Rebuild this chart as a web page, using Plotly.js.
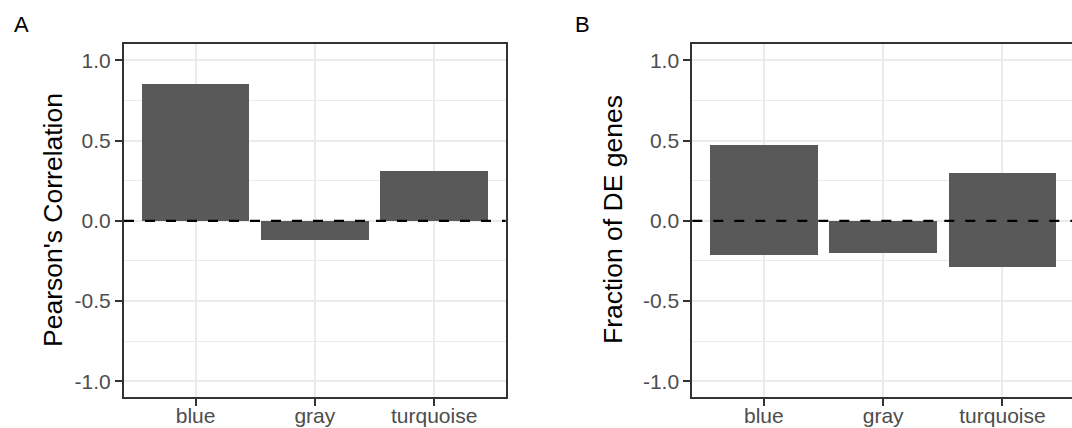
<!DOCTYPE html>
<html>
<head>
<meta charset="utf-8">
<script src="https://cdn.plot.ly/plotly-3.0.1.min.js"></script>
<style>
  html, body { margin: 0; padding: 0; overflow: hidden; background: #fff; }
  #chart { width: 1072px; height: 428px; }
</style>
</head>
<body>
<div id="chart"></div>
<script>
// ---- data ----
const categories = ['blue', 'gray', 'turquoise'];
const pearsonCorr = [0.854, -0.121, 0.309];      // panel A
const deFractionUp = [0.471, 0.0, 0.301];         // panel B, positive part
const deFractionDown = [-0.214, -0.200, -0.289];  // panel B, negative part
const yTickVals = [-1, -0.5, 0, 0.5, 1];
const yTickText = ['-1.0', '-0.5', '0.0', '0.5', '1.0'];
const yMinorVals = [-0.75, -0.25, 0.25, 0.75];
const panelTags = ['A', 'B'];
const yTitles = ["Pearson's Correlation", 'Fraction of DE genes'];

// ---- styling ----
const FONT = '"Liberation Sans", Arial, Helvetica, sans-serif';
const BAR = '#595959';
const GRID = '#EBEBEB';
const FRAME = '#333333';
const TICKFONT = {family: FONT, size: 21, color: '#4D4D4D'};

function barTrace(y, xa, ya) {
  return {
    type: 'bar', x: categories, y: y, xaxis: xa, yaxis: ya,
    width: 0.9, marker: {color: BAR, line: {width: 0}},
    hoverinfo: 'x+y', showlegend: false
  };
}

const data = [
  barTrace(pearsonCorr, 'x', 'y'),
  barTrace(deFractionUp, 'x2', 'y2'),
  barTrace(deFractionDown, 'x2', 'y2')
];

function xAxis(domain, range, anchor) {
  return {
    domain: domain, range: range, anchor: anchor, type: 'category',
    showgrid: true, gridcolor: GRID, gridwidth: 2,
    showline: true, linecolor: FRAME, linewidth: 2, mirror: true,
    ticks: 'outside', ticklen: 7, tickwidth: 2, tickcolor: FRAME,
    ticklabelstandoff: -9,
    tickfont: TICKFONT, zeroline: false, fixedrange: true
  };
}
function yAxis(domain, anchor, mirror) {
  return {
    domain: domain, range: [-1.1, 1.1], anchor: anchor,
    tickmode: 'array', tickvals: yTickVals, ticktext: yTickText,
    showgrid: true, gridcolor: GRID, gridwidth: 2,
    minor: {tickmode: 'array', tickvals: yMinorVals, showgrid: true,
            gridcolor: GRID, gridwidth: 1, ticks: ''},
    showline: true, linecolor: FRAME, linewidth: 2, mirror: mirror,
    ticks: 'outside', ticklen: 7, tickwidth: 2, tickcolor: FRAME,
    tickfont: TICKFONT, zeroline: false, fixedrange: true
  };
}

const W = 1072, H = 428;
const yDom = [30.7 / H, 383.7 / H];
const layout = {
  width: W, height: H,
  margin: {l: 0, r: 0, t: 0, b: 0},
  paper_bgcolor: '#ffffff', plot_bgcolor: '#ffffff',
  barmode: 'overlay', bargap: 0,
  font: {family: FONT},
  xaxis: xAxis([124 / W, 505.7 / W], [-0.6, 2.6], 'y'),
  yaxis: yAxis(yDom, 'x', true),
  xaxis2: xAxis([692.3 / W, 1], [-0.6, 2.583], 'y2'),
  yaxis2: yAxis(yDom, 'x2', false),
  shapes: [
    {type: 'line', xref: 'x domain', yref: 'y', x0: 0, x1: 1, y0: 0, y1: 0,
     line: {color: '#000000', width: 2.2, dash: '10px,11px'}, layer: 'above'},
    {type: 'line', xref: 'x2 domain', yref: 'y2', x0: 0, x1: 1, y0: 0, y1: 0,
     line: {color: '#000000', width: 2.2, dash: '10px,11px'}, layer: 'above'}
  ],
  annotations: [
    {text: panelTags[0], xref: 'paper', yref: 'paper', x: 12 / W, y: (H - 24.5) / H,
     xanchor: 'left', yanchor: 'middle', showarrow: false,
     font: {family: FONT, size: 22, color: '#000'}},
    {text: panelTags[1], xref: 'paper', yref: 'paper', x: 573 / W, y: (H - 24.5) / H,
     xanchor: 'left', yanchor: 'middle', showarrow: false,
     font: {family: FONT, size: 22, color: '#000'}},
    {text: yTitles[0], xref: 'paper', yref: 'paper', x: 53 / W, y: (H - 220) / H,
     xanchor: 'center', yanchor: 'middle', textangle: -90, showarrow: false,
     font: {family: FONT, size: 26.5, color: '#000'}},
    {text: yTitles[1], xref: 'paper', yref: 'paper', x: 613 / W, y: (H - 220) / H,
     xanchor: 'center', yanchor: 'middle', textangle: -90, showarrow: false,
     font: {family: FONT, size: 26.5, color: '#000'}}
  ]
};

Plotly.newPlot('chart', data, layout, {staticPlot: true, displayModeBar: false});
</script>
</body>
</html>
